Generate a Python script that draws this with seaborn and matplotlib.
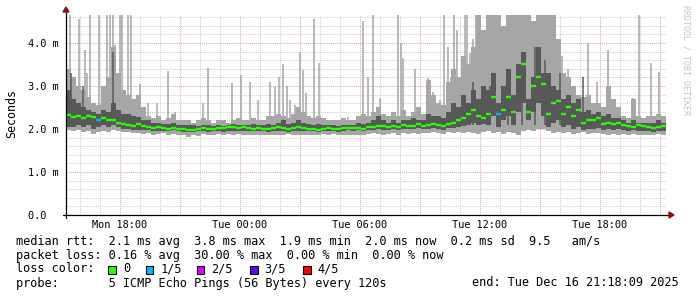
import numpy as np
import pandas as pd
import matplotlib
matplotlib.use("Agg")
import matplotlib.pyplot as plt
import matplotlib.dates as mdates
from matplotlib.ticker import FuncFormatter, FixedLocator
from matplotlib.patches import Rectangle, Polygon
from matplotlib.lines import Line2D
import seaborn as sns

# ---------------- data (ms) ----------------
START = "2025-12-15 15:18:09"
END = "2025-12-16 21:18:09"
BIN = "15min"

# light smoke upper edge (max ping, excluding thin spikes)
hi = [3.4, 3.2, 3.0, 2.9, 2.75, 2.6, 2.55, 3.0, 3.2, 3.9, 3.3, 2.9,
      2.8, 2.7, 2.8, 2.5, 2.3, 2.25, 2.3, 2.2, 2.25, 2.35, 2.2, 2.2,
      2.2, 2.15, 2.2, 2.25, 2.2, 2.15, 2.2, 2.2, 2.15, 2.2, 2.25, 2.2,
      2.2, 2.25, 2.2, 2.2, 2.3, 2.3, 2.35, 2.3, 2.25, 2.35, 2.5, 2.4,
      2.3, 2.25, 2.3, 2.25, 2.2, 2.2, 2.2, 2.25, 2.2, 2.2, 2.3, 2.35,
      2.3, 2.4, 2.5, 2.35, 2.3, 2.4, 2.3, 2.45, 2.3, 2.4, 2.5, 2.35,
      3.15, 2.8, 2.6, 2.55, 3.1, 3.4, 3.2, 3.7, 3.5, 3.9, 4.7, 4.3,
      4.7, 4.7, 4.7, 4.4, 4.7, 4.7, 4.7, 4.7, 4.7, 4.5, 4.7, 4.7,
      4.7, 4.7, 4.1, 3.3, 3.2, 3.0, 2.8, 2.75, 2.8, 2.6, 2.6, 2.5,
      3.0, 2.7, 2.5, 2.3, 2.25, 2.7, 2.3, 2.25, 2.3, 2.3, 2.35, 2.3]
# dark smoke upper / lower edge (inner pings)
dk = [2.9, 2.7, 2.6, 2.5, 2.45, 2.4, 2.35, 2.45, 2.4, 2.6, 2.45, 2.35,
      2.35, 2.3, 2.28, 2.22, 2.2, 2.15, 2.15, 2.12, 2.12, 2.15, 2.1, 2.1,
      2.1, 2.1, 2.08, 2.1, 2.1, 2.08, 2.1, 2.08, 2.1, 2.12, 2.1, 2.1,
      2.1, 2.12, 2.1, 2.1, 2.12, 2.1, 2.15, 2.2, 2.12, 2.15, 2.2, 2.15,
      2.12, 2.1, 2.12, 2.1, 2.1, 2.1, 2.08, 2.1, 2.1, 2.1, 2.15, 2.12,
      2.15, 2.2, 2.3, 2.2, 2.15, 2.2, 2.15, 2.2, 2.2, 2.25, 2.2, 2.2,
      2.35, 2.3, 2.3, 2.25, 2.4, 2.6, 2.5, 2.8, 2.6, 2.9, 2.7, 3.0,
      2.9, 3.3, 2.6, 3.0, 3.4, 2.8, 3.5, 3.8, 2.7, 3.2, 3.9, 3.3,
      3.3, 3.0, 2.9, 2.7, 2.8, 2.6, 2.7, 2.4, 2.45, 2.35, 2.4, 2.3,
      2.35, 2.25, 2.25, 2.2, 2.15, 2.2, 2.15, 2.15, 2.15, 2.15, 2.2, 2.15]
dl = [2.05, 2.05, 2.1, 2.05, 2.1, 2.0, 2.05, 2.1, 2.05, 2.1, 2.05, 2.0,
      2.0, 1.98, 1.98, 1.98, 1.97, 1.95, 1.95, 1.96, 1.95, 1.97, 1.95, 1.94,
      1.94, 1.93, 1.95, 1.95, 1.93, 1.95, 1.95, 1.94, 1.95, 1.96, 1.95, 1.95,
      1.95, 1.95, 1.96, 1.95, 1.94, 1.95, 1.96, 1.95, 1.94, 1.95, 1.96, 1.95,
      1.95, 1.96, 1.94, 1.95, 1.96, 1.95, 1.94, 1.96, 1.97, 1.96, 1.97, 1.95,
      1.97, 1.98, 2.0, 1.98, 1.97, 2.0, 1.98, 2.0, 1.99, 2.0, 2.02, 2.0,
      2.0, 2.02, 2.0, 1.98, 2.02, 2.03, 2.05, 2.08, 2.1, 2.15, 2.1, 2.12,
      2.1, 2.3, 2.05, 2.2, 2.3, 2.1, 2.4, 2.6, 2.2, 2.4, 2.6, 2.3,
      2.05, 2.15, 2.2, 2.05, 2.1, 2.0, 2.05, 1.98, 2.0, 2.0, 2.02, 1.97,
      2.0, 1.98, 2.0, 1.97, 1.96, 1.98, 1.96, 1.95, 1.95, 1.94, 1.96, 1.95]
# light smoke lower edge (min ping)
lo = [1.98, 1.95, 1.97, 1.93, 1.95, 1.88, 1.92, 1.95, 1.93, 1.97, 1.95, 1.93,
      1.92, 1.9, 1.9, 1.88, 1.9, 1.87, 1.88, 1.9, 1.86, 1.88, 1.85, 1.87,
      1.82, 1.85, 1.84, 1.88, 1.86, 1.87, 1.88, 1.86, 1.88, 1.87, 1.88, 1.86,
      1.86, 1.87, 1.85, 1.87, 1.86, 1.85, 1.87, 1.86, 1.88, 1.85, 1.87, 1.86,
      1.85, 1.87, 1.86, 1.88, 1.87, 1.88, 1.86, 1.87, 1.85, 1.86, 1.87, 1.85,
      1.88, 1.9, 1.88, 1.87, 1.89, 1.9, 1.86, 1.9, 1.88, 1.9, 1.88, 1.9,
      1.9, 1.92, 1.9, 1.88, 1.92, 1.9, 1.93, 1.9, 1.92, 1.9, 1.88, 1.92,
      1.95, 1.9, 1.93, 1.88, 1.92, 1.9, 1.85, 1.95, 1.98, 1.95, 2.0, 2.0,
      1.95, 1.9, 1.92, 1.9, 1.93, 1.88, 1.9, 1.92, 1.88, 1.9, 1.9, 1.88,
      1.86, 1.88, 1.87, 1.88, 1.86, 1.88, 1.85, 1.87, 1.86, 1.85, 1.88, 1.87]
# median rtt
med = [2.33, 2.28, 2.3, 2.25, 2.3, 2.28, 2.2, 2.25, 2.22, 2.2, 2.15, 2.12,
       2.1, 2.08, 2.12, 2.08, 2.05, 2.03, 2.05, 2.02, 2.0, 2.03, 2.0, 1.99,
       1.98, 1.97, 2.0, 2.02, 2.0, 2.01, 2.03, 2.02, 2.04, 2.05, 2.03, 2.04,
       2.02, 2.0, 2.03, 2.01, 2.0, 2.03, 2.05, 2.02, 2.0, 2.03, 2.05, 2.02,
       2.0, 2.01, 1.98, 2.0, 2.02, 2.0, 1.99, 2.02, 2.03, 2.02, 2.03, 2.01,
       2.04, 2.05, 2.08, 2.06, 2.04, 2.08, 2.05, 2.1, 2.07, 2.08, 2.12, 2.08,
       2.1, 2.12, 2.1, 2.08, 2.12, 2.15, 2.2, 2.25, 2.35, 2.45, 2.3, 2.25,
       2.35, 2.75, 2.35, 2.45, 2.75, 2.4, 3.2, 3.5, 2.4, 3.0, 3.2, 3.05,
       2.35, 2.6, 2.65, 2.35, 2.5, 2.3, 2.45, 2.15, 2.2, 2.22, 2.25, 2.12,
       2.15, 2.12, 2.15, 2.1, 2.08, 2.05, 2.1, 2.07, 2.05, 2.03, 2.05, 2.07]
# lost pings per bin (of 5)
loss = [0, 0, 0, 0, 0, 0, 1, 0, 0, 0, 0, 0] + [0] * 74 + [1] + [0] * 33

# thin max-ping spikes (light smoke)
spike_t = ["2025-12-15 15:30", "2025-12-15 15:57", "2025-12-15 16:15", "2025-12-15 16:21",
           "2025-12-15 16:30", "2025-12-15 16:57", "2025-12-15 17:21", "2025-12-15 17:30",
           "2025-12-15 17:39", "2025-12-15 17:45", "2025-12-15 18:00", "2025-12-15 18:06",
           "2025-12-15 18:24", "2025-12-15 18:33", "2025-12-15 19:00", "2025-12-15 19:24",
           "2025-12-15 19:51", "2025-12-15 20:24", "2025-12-15 20:45", "2025-12-15 22:09",
           "2025-12-15 22:24", "2025-12-15 23:36", "2025-12-16 00:03", "2025-12-16 00:30",
           "2025-12-16 00:54", "2025-12-16 01:30", "2025-12-16 01:45", "2025-12-16 01:57",
           "2025-12-16 02:09", "2025-12-16 02:21", "2025-12-16 02:30", "2025-12-16 02:45",
           "2025-12-16 03:00", "2025-12-16 03:09", "2025-12-16 03:18", "2025-12-16 03:42",
           "2025-12-16 03:57", "2025-12-16 05:24", "2025-12-16 06:09", "2025-12-16 06:24",
           "2025-12-16 06:39", "2025-12-16 07:00", "2025-12-16 07:54", "2025-12-16 08:03",
           "2025-12-16 08:09", "2025-12-16 08:45", "2025-12-16 09:24", "2025-12-16 09:39",
           "2025-12-16 10:00", "2025-12-16 10:12", "2025-12-16 10:24", "2025-12-16 10:33",
           "2025-12-16 10:42", "2025-12-16 10:51", "2025-12-16 11:06", "2025-12-16 11:15",
           "2025-12-16 11:21", "2025-12-16 11:30", "2025-12-16 11:39", "2025-12-16 11:48",
           "2025-12-16 11:54", "2025-12-16 12:09", "2025-12-16 16:06", "2025-12-16 16:24",
           "2025-12-16 16:45", "2025-12-16 17:24", "2025-12-16 17:51", "2025-12-16 18:24",
           "2025-12-16 18:51", "2025-12-16 19:39", "2025-12-16 19:57", "2025-12-16 20:33",
           "2025-12-16 20:57"]
spike_v = [4.7, 4.55, 3.84, 3.3, 4.7, 4.7, 4.7, 4.7,
           4.7, 3.95, 4.7, 4.7, 4.7, 4.7, 3.05, 2.6,
           2.6, 3.35, 2.4, 2.6, 3.42, 3.07, 3.26, 3.1,
           2.67, 3.1, 2.97, 3.2, 3.5, 3.0, 2.67, 2.56,
           3.8, 3.37, 2.83, 4.56, 3.53, 2.28, 4.5, 3.2,
           4.65, 2.72, 4.65, 4.0, 3.65, 3.4, 3.18, 2.87,
           2.67, 4.7, 3.9, 3.2, 4.7, 4.3, 3.45, 4.7,
           4.7, 3.76, 4.1, 4.7, 4.7, 4.2, 3.7, 3.4,
           2.97, 4.0, 3.1, 3.84, 2.5, 2.72, 4.7, 3.53,
           3.32]
# thin inner-ping spikes (dark smoke)
dspike_t = ["2025-12-15 15:33", "2025-12-15 16:09", "2025-12-15 17:39", "2025-12-16 11:39",
            "2025-12-16 12:30", "2025-12-16 13:24", "2025-12-16 14:06", "2025-12-16 14:45",
            "2025-12-16 15:15", "2025-12-16 16:00", "2025-12-16 17:09"]
dspike_v = [3.3, 3.0, 3.8, 3.1, 3.0, 3.4, 3.6, 3.9, 3.6, 3.3, 3.2]

y_major = [0, 1, 2, 3, 4]
loss_labels = ["0", "1/5", "2/5", "3/5", "4/5"]
loss_colors = ["#26ff00", "#00b8ff", "#dd00ff", "#5e00ff", "#ff0000"]

legend_rows = [
    "median rtt:  2.1 ms avg  3.8 ms max  1.9 ms min  2.0 ms now  0.2 ms sd  9.5   am/s",
    "packet loss: 0.16 % avg  30.00 % max  0.00 % min  0.00 % now",
    "loss color:",
    "probe:       5 ICMP Echo Pings (56 Bytes) every 120s",
]
end_text = "end: Tue Dec 16 21:18:09 2025"
watermark = "RRDTOOL / TOBI OETIKER"

# ---------------- style ----------------
sns.set_theme(style="white")
plt.rcParams['font.family'] = ['DejaVu Sans Mono', 'DejaVu Sans']
LIGHT = "#a6a6a6"
DARK = "#585858"
MAJ = "#e0a8a8"
MIN = "#cfcfcf"
ARROW = "#8b1010"

W, H = 697, 297
fig = plt.figure(figsize=(W / 100, H / 100), dpi=100, facecolor="white")
ax = fig.add_axes([66 / W, 1 - 215 / H, 600 / W, 200 / H])
ax.set_facecolor("white")

t = pd.date_range(START, periods=len(med) + 1, freq=BIN)
ext = lambda a: np.append(np.asarray(a, float), a[-1])

ax.fill_between(t, ext(lo), ext(hi), step="post", color=LIGHT, lw=0, zorder=2)
ax.vlines(pd.to_datetime(spike_t), 2.0, spike_v, color=LIGHT, lw=1.1, zorder=2)
ax.fill_between(t, ext(dl), ext(dk), step="post", color=DARK, lw=0, zorder=3)
ax.vlines(pd.to_datetime(dspike_t), 2.1, dspike_v, color=DARK, lw=1.1, zorder=3)

# median segments, one per bin, coloured by loss
df = pd.DataFrame({"t0": t[:-1], "t1": t[1:], "med": med,
                   "loss": [loss_labels[k] for k in loss]})
pal = dict(zip(loss_labels, loss_colors))
ax.hlines(df["med"], df["t0"], df["t1"], colors=[pal[k] for k in df["loss"]],
          lw=1.7, zorder=4)
# seaborn: invisible anchor for the loss hue mapping (keeps palette consistent)
sns.scatterplot(data=df.iloc[:0], x="t0", y="med", hue="loss", hue_order=loss_labels,
                palette=pal, legend=False, ax=ax)

ax.set_xlim(pd.Timestamp(START), pd.Timestamp(END))
ax.set_ylim(0, 4.65)

# grid
ax.yaxis.set_major_locator(FixedLocator(y_major))
ax.yaxis.set_minor_locator(FixedLocator(np.arange(0.2, 4.65, 0.2)))
ax.xaxis.set_major_locator(mdates.HourLocator(byhour=range(0, 24, 3)))
ax.xaxis.set_minor_locator(mdates.HourLocator())


def xfmt(x, pos):
    d = mdates.num2date(x)
    return d.strftime("%a %H:%M") if d.hour % 6 == 0 else ""


ax.xaxis.set_major_formatter(FuncFormatter(xfmt))
ax.yaxis.set_major_formatter(FuncFormatter(lambda v, p: "0.0  " if v == 0 else f"{v:.1f} m"))
ax.grid(which="major", color=MAJ, lw=0.75, ls=(0, (1, 1)))
ax.grid(which="minor", color=MIN, lw=0.75, ls=(0, (1, 1)))
ax.set_axisbelow(True)
ax.tick_params(which="both", length=0)
ax.tick_params(axis="x", pad=3.5, labelsize=7.4, colors="black")
ax.tick_params(axis="y", pad=5.0, labelsize=7.4, colors="black")
for s in ax.spines.values():
    s.set_visible(False)
ax.set_xlabel("")
ax.set_ylabel("")

# axes lines and arrows (pixel units relative to axes)
px = 1 / 600
py = 1 / 200
ax.add_line(Line2D([-3 * px, 1 + 3 * px], [0, 0], color="black", lw=0.9,
                   transform=ax.transAxes, clip_on=False, zorder=6))
ax.add_line(Line2D([0, 0], [-3 * py, 1 + 3 * py], color="black", lw=0.9,
                   transform=ax.transAxes, clip_on=False, zorder=6))
ax.add_patch(Polygon([[1 + 3 * px, 3 * py], [1 + 3 * px, -3 * py], [1 + 8 * px, 0]],
                     closed=True, color=ARROW, transform=ax.transAxes, clip_on=False, zorder=7))
ax.add_patch(Polygon([[-3 * px, 1 + 3 * py], [3 * px, 1 + 3 * py], [0, 1 + 8 * py]],
                     closed=True, color=ARROW, transform=ax.transAxes, clip_on=False, zorder=7))

# texts
fig.text(11.5 / W, 1 - 114 / H, "Seconds", rotation=90, ha="center", va="center",
         fontsize=8.4, color="black")
fig.text(686 / W, 1 - 5 / H, watermark, rotation=270, ha="center", va="top",
         fontsize=6.0, color="#c4c4c4")

row_y = [241, 255, 269, 283]
for s, y in zip(legend_rows, row_y):
    fig.text(16 / W, 1 - y / H, s, ha="left", va="center", fontsize=8.6, color="black")
fig.text(679 / W, 1 - 283 / H, end_text, ha="right", va="center", fontsize=8.6, color="black")

box_x = [108.3, 145.7, 196.7, 250.0, 303.0]
for bx, lab, col in zip(box_x, loss_labels, loss_colors):
    fig.patches.append(Rectangle((bx / W, 1 - 273.5 / H), 7.5 / W, 8 / H,
                                 transform=fig.transFigure, facecolor=col,
                                 edgecolor="black", lw=0.8))
    fig.text((bx + 14.7) / W, 1 - 269 / H, lab, ha="left", va="center",
             fontsize=8.6, color="black")

fig.savefig("out.png", dpi=100, facecolor="white")
